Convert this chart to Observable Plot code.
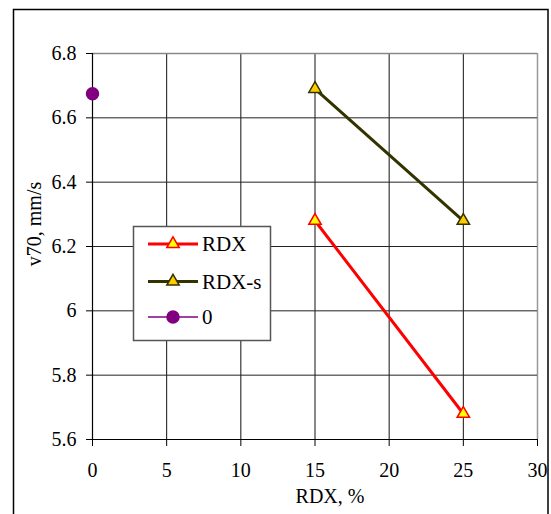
<!DOCTYPE html>
<html><head><meta charset="utf-8">
<script src="https://cdn.jsdelivr.net/npm/d3@7"></script>
<script src="https://cdn.jsdelivr.net/npm/@observablehq/plot@0.6"></script>
<style>body{margin:0;background:#fff} svg{display:block} svg text{font-family:"Liberation Serif","Times New Roman",Times,serif !important;}</style>
</head><body><div id="chart"></div>
<script>
const rdxX = [15, 25];
const rdxY = [6.28, 5.68];
const rdxsX = [15, 25];
const rdxsY = [6.69, 6.28];
const zeroX = [0];
const zeroY = [6.675];
const xTicks = [0, 5, 10, 15, 20, 25, 30];
const yTicks = [5.6, 5.8, 6.0, 6.2, 6.4, 6.6, 6.8];
const seriesNames = ["RDX", "RDX-s", "0"];
const xLabel = "RDX, %";
const yLabel = "v70, mm/s";

const FONT = "\"Liberation Serif\", \"Times New Roman\", serif";
const rdx = rdxX.map((x, i) => ({x, y: rdxY[i]}));
const rdxs = rdxsX.map((x, i) => ({x, y: rdxsY[i]}));
const zero = zeroX.map((x, i) => ({x, y: zeroY[i]}));
const styles = [
  {stroke: "#ff0000", width: 3, symbol: "triangle", fill: "#ffff00", mstroke: "#ff0000", r: 4.6},
  {stroke: "#333300", width: 3, symbol: "triangle", fill: "#ffcc00", mstroke: "#333300", r: 4.6},
  {stroke: "#800080", width: 1.5, symbol: "circle", fill: "#800080", mstroke: "#800080", r: 6}
];

const fmt = d => String(+d.toFixed(1));
const plot = Plot.plot({
  width: 551, height: 514,
  marginLeft: 92, marginRight: 14, marginTop: 53, marginBottom: 75,
  style: {fontSize: "20px", color: "#000", background: "#fff"},
  x: {domain: [0, 30], ticks: xTicks},
  y: {domain: [5.6, 6.8], ticks: yTicks},
  marks: [
    Plot.ruleX(xTicks.filter(d => d > 0 && d < 30), {stroke: "#111", strokeWidth: 1}),
    Plot.ruleX([30], {stroke: "#999", strokeWidth: 1.5}),
    Plot.ruleY(yTicks.filter(d => d > 5.6 && d < 6.8), {stroke: "#222", strokeWidth: 1}),
    Plot.ruleY([6.8], {stroke: "#888", strokeWidth: 1.5}),
    Plot.ruleX([0], {stroke: "#000", strokeWidth: 1.2}),
    Plot.ruleY([5.6], {stroke: "#000", strokeWidth: 1.2}),
    Plot.axisX({ticks: xTicks, tickSize: 7, tickPadding: 16, tickFormat: fmt, label: null, fontSize: 20}),
    Plot.axisY({ticks: yTicks, tickSize: 6, tickPadding: 10, tickFormat: fmt, label: null, fontSize: 20}),
    Plot.line(rdx, {x: "x", y: "y", stroke: styles[0].stroke, strokeWidth: styles[0].width}),
    Plot.line(rdxs, {x: "x", y: "y", stroke: styles[1].stroke, strokeWidth: styles[1].width}),
    Plot.dot(rdx, {x: "x", y: "y", symbol: "triangle", r: styles[0].r, fill: styles[0].fill, stroke: styles[0].mstroke, strokeWidth: 1.5}),
    Plot.dot(rdxs, {x: "x", y: "y", symbol: "triangle", r: styles[1].r, fill: styles[1].fill, stroke: styles[1].mstroke, strokeWidth: 1.5}),
    Plot.dot(zero, {x: "x", y: "y", symbol: "circle", r: styles[2].r, fill: styles[2].fill, stroke: styles[2].mstroke})
  ]
});
document.getElementById("chart").appendChild(plot);

const svg = d3.select(plot);
// outer frame
svg.append("rect").attr("x", 13.5).attr("y", 9.5).attr("width", 534.5).attr("height", 520)
  .attr("fill", "none").attr("stroke", "#000").attr("stroke-width", 1.5);
// axis titles
svg.append("text").attr("x", 330).attr("y", 503).attr("text-anchor", "middle")
  .style("font-size", "20px").text(xLabel);
svg.append("text").attr("transform", "translate(41,224) rotate(-90)").attr("text-anchor", "middle")
  .style("font-size", "20px").text(yLabel);
// legend
const lg = svg.append("g");
lg.append("rect").attr("x", 133.5).attr("y", 226.5).attr("width", 137).attr("height", 114)
  .attr("fill", "#fff").attr("stroke", "#555").attr("stroke-width", 1.5);
const rowsY = [244, 281.5, 317];
seriesNames.forEach((name, i) => {
  const s = styles[i], y = rowsY[i];
  lg.append("line").attr("x1", 148).attr("x2", 198).attr("y1", y).attr("y2", y)
    .attr("stroke", s.stroke).attr("stroke-width", s.width);
  const sym = (s.symbol === "triangle" ? d3.symbolTriangle : d3.symbolCircle);
  lg.append("path").attr("d", d3.symbol(sym, Math.PI * s.r * s.r)())
    .attr("transform", `translate(173,${y})`).attr("fill", s.fill).attr("stroke", s.mstroke).attr("stroke-width", 1.5);
  lg.append("text").attr("x", 202).attr("y", y).attr("dy", "0.35em").attr("text-anchor", "start")
    .style("font-size", "21px").text(name);
});
</script></body></html>
